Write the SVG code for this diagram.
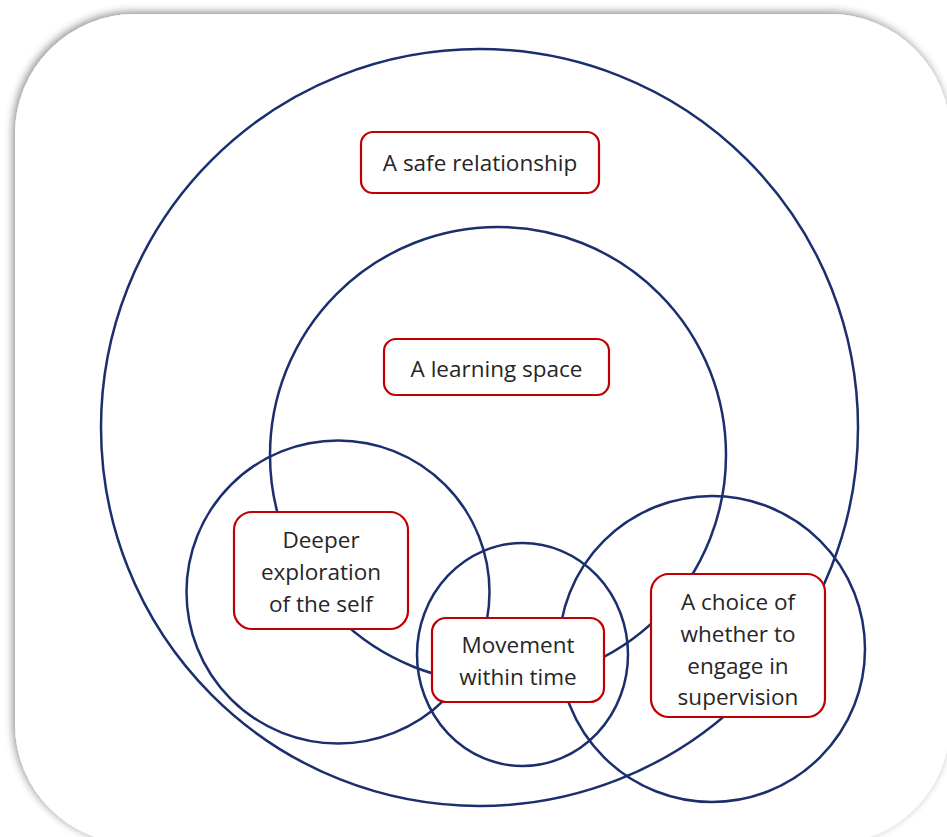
<svg xmlns="http://www.w3.org/2000/svg" width="947" height="837" viewBox="0 0 947 837">
  <defs>
    <filter id="shadow" x="-10%" y="-10%" width="120%" height="120%">
      <feDropShadow dx="-2" dy="-2" stdDeviation="4" flood-color="#000" flood-opacity="0.45"/>
    </filter>
  </defs>
  <style>
    .ring { fill: none; stroke: #1B2F6E; stroke-width: 2.5; }
    .box { fill: #FFFFFF; stroke: #C00000; stroke-width: 2.2; }
    .label { font-family: "Open Sans", "Liberation Sans", sans-serif; font-size: 22.5px; fill: #262626; text-anchor: middle; }
  </style>
  <rect width="947" height="837" fill="#FFFFFF"/>
  <g id="card">
    <rect x="15" y="14" width="935" height="830" rx="120" ry="120" fill="#FFFFFF" filter="url(#shadow)"/>
  </g>
  <g id="circles">
    <circle id="c-safe" class="ring" cx="479.5" cy="427.5" r="378.5"/>
    <circle id="c-learning" class="ring" cx="498" cy="455" r="228"/>
    <circle id="c-deeper" class="ring" cx="338" cy="592" r="151.5"/>
    <ellipse id="c-movement" class="ring" cx="522.5" cy="654.5" rx="105.5" ry="111.5"/>
    <circle id="c-choice" class="ring" cx="712" cy="649" r="153"/>
  </g>
  <g id="connectors"/>
  <g id="n-safe">
    <rect class="box" x="361" y="132" width="238" height="61" rx="12"/>
    <text class="label" x="480" y="171">A safe relationship</text>
  </g>
  <g id="n-learning">
    <rect class="box" x="384" y="339" width="225" height="56" rx="12"/>
    <text class="label" x="496.5" y="377">A learning space</text>
  </g>
  <g id="n-deeper">
    <rect class="box" x="234" y="512" width="174" height="117" rx="18"/>
    <text class="label" x="321" y="548">Deeper</text>
    <text class="label" x="321" y="580">exploration</text>
    <text class="label" x="321" y="612">of the self</text>
  </g>
  <g id="n-movement">
    <rect class="box" x="432" y="618" width="172" height="84" rx="14"/>
    <text class="label" x="518" y="653">Movement</text>
    <text class="label" x="518" y="685">within time</text>
  </g>
  <g id="n-choice">
    <rect class="box" x="651" y="574" width="174" height="143" rx="18"/>
    <text class="label" x="738" y="610">A choice of</text>
    <text class="label" x="738" y="642">whether to</text>
    <text class="label" x="738" y="674">engage in</text>
    <text class="label" x="738" y="705">supervision</text>
  </g>
</svg>
